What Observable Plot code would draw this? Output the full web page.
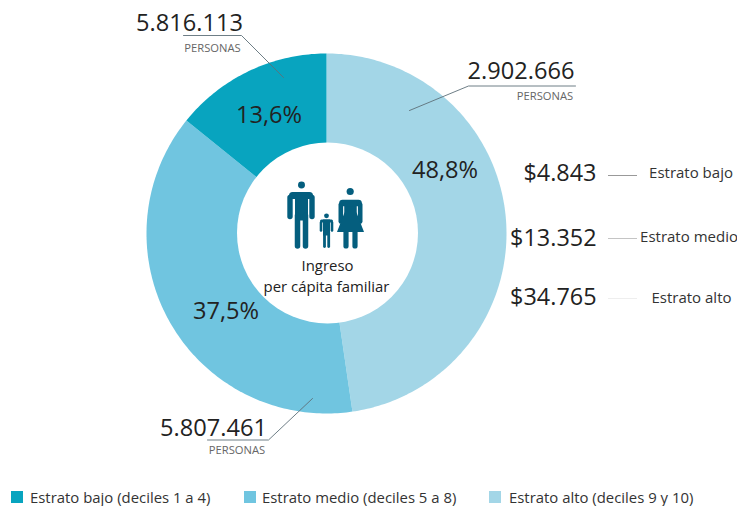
<!DOCTYPE html>
<html><head><meta charset="utf-8">
<script src="https://cdn.jsdelivr.net/npm/d3@7"></script>
<script src="https://cdn.jsdelivr.net/npm/@observablehq/plot@0.6"></script>
<style>
html,body{margin:0;padding:0;background:#fff}
#c{width:737px;height:506px;overflow:hidden;font-family:"Open Sans",sans-serif}
#c svg{display:block}
#legend{position:relative;height:22px;font-size:14.9px;color:#333;line-height:22px}
#legend span.i{position:absolute;top:2px;white-space:nowrap}
#legend i{position:absolute;top:7px;width:12px;height:12px}
</style></head><body><div id="c"></div>
<script>
// Data
const categories = ["Estrato alto","Estrato medio","Estrato bajo"];
const legendLabels = ["Estrato alto (deciles 9 y 10)","Estrato medio (deciles 5 a 8)","Estrato bajo (deciles 1 a 4)"];
const colors = ["#a3d6e7","#70c5e0","#08a4bf"];
const drawnShares = [47.7,38.1,14.2];
const shareLabels = ["48,8%","37,5%","13,6%"];
const personas = ["2.902.666","5.807.461","5.816.113"];
const incomes = ["$4.843","$13.352","$34.765"];
const incomeNames = ["Estrato bajo","Estrato medio","Estrato alto"];

// Layout
const W=737,H=484,cx=326,cy=233,R=180,r=90.5;
const arcs = d3.pie().sort(null).value(d=>d)(drawnShares);
const slicePts = arcs.flatMap((a,i)=>{
  const pts=[];
  const n=Math.ceil((a.endAngle-a.startAngle)*60);
  for(let k=0;k<=n;k++){const t=a.startAngle+(a.endAngle-a.startAngle)*k/n;pts.push({c:categories[i],x:cx+R*Math.sin(t),y:cy-R*Math.cos(t)});}
  pts.push({c:categories[i],x:cx,y:cy});
  return pts;
});
const big=[
 {t:personas[2],x:189,y:30},{t:personas[0],x:520.5,y:78},{t:personas[1],x:213,y:435},
 {t:shareLabels[2],x:268.5,y:122},{t:shareLabels[0],x:444.5,y:177},{t:shareLabels[1],x:225.5,y:318}
];
const amounts=[{t:incomes[0],x:596,y:180},{t:incomes[1],x:596,y:245},{t:incomes[2],x:596,y:304}];
const names=[{t:incomeNames[0],x:690.5,y:177},{t:incomeNames[1],x:688.5,y:241},{t:incomeNames[2],x:691,y:302}];
const pers=[{x:212,y:51},{x:544.5,y:99.5},{x:236.5,y:453.5}];
const leaders=[
 {k:"a",x:183,y:35},{k:"a",x:241,y:35},{k:"a",x:283,y:77},
 {k:"b",x:409,y:110},{k:"b",x:468,y:85.5},{k:"b",x:575,y:85.5},
 {k:"c",x:207,y:439.5},{k:"c",x:268,y:439.5},{k:"c",x:312,y:398}
];
const ticks=[{x1:608,x2:637,y:175,s:"#999"},{x1:608,x2:637,y:238,s:"#c4c4c4"},{x1:608,x2:637,y:298,s:"#eeeeee"}];
const ink="#045e7e";
const heads=[{x:301,y:184.5,r:6.6},{x:349.7,y:191,r:7},{x:326,y:215.3,r:3.2}];
const limbs=[
 // man
 {x1:289.5,y1:197,x2:289.5,y2:216,w:5.4},{x1:311.5,y1:197,x2:311.5,y2:216,w:5.4},{x1:292,y1:195,x2:309,y2:195,w:7},
 {x1:297,y1:215,x2:297,y2:245.5,w:5.5},{x1:305,y1:215,x2:305,y2:245.5,w:5.5},
 // child
 {x1:320.5,y1:222,x2:320.5,y2:230,w:2.6},{x1:331.5,y1:222,x2:331.5,y2:230,w:2.6},{x1:321,y1:220.5,x2:331,y2:220.5,w:3},
 {x1:324,y1:232,x2:324,y2:246,w:2.8},{x1:328.2,y1:232,x2:328.2,y2:246,w:2.8},
 // woman
 {x1:340.3,y1:204,x2:340.3,y2:221,w:4.6},{x1:359.7,y1:204,x2:359.7,y2:221,w:4.6},{x1:342,y1:202.5,x2:358,y2:202.5,w:6.5},
 {x1:345.5,y1:230,x2:345.5,y2:245.5,w:5.2},{x1:354.5,y1:230,x2:354.5,y2:245.5,w:5.2}
];
const trunks=[
 {x1:301,y1:193,x2:301,y2:220,w:13},
 {x1:326,y1:219,x2:326,y2:235,w:7},
 {x1:350,y1:200,x2:350,y2:216,w:12.5}
];
const skirt=[{x:344,y:212},{x:356,y:212},{x:363.5,y:231.5},{x:336.5,y:231.5}];

const plot=Plot.plot({
 width:W,height:H,margin:0,
 x:{domain:[0,W],range:[0,W],axis:null},
 y:{domain:[0,H],range:[0,H],axis:null},
 color:{domain:categories,range:colors},
 style:{fontFamily:'"Open Sans",sans-serif',background:"#fff"},
 marks:[
  Plot.line(slicePts,{x:"x",y:"y",z:"c",fill:"c",stroke:null,curve:"linear"}),
  Plot.dot([{x:cx+1,y:232.5}],{x:"x",y:"y",r:r,fill:"#fff"}),
  Plot.line(leaders,{x:"x",y:"y",z:"k",stroke:"#5d6f78",strokeWidth:0.9}),
  Plot.ruleY(ticks,{x1:"x1",x2:"x2",y:"y",stroke:"s",strokeWidth:1}),
  Plot.link(trunks,{x1:"x1",y1:"y1",x2:"x2",y2:"y2",stroke:ink,strokeWidth:"w"}),
  Plot.link(limbs,{x1:"x1",y1:"y1",x2:"x2",y2:"y2",stroke:ink,strokeWidth:"w",strokeLinecap:"round"}),
  Plot.line(skirt,{x:"x",y:"y",fill:ink,stroke:null}),
  Plot.dot(heads,{x:"x",y:"y",r:"r",fill:ink}),
  Plot.text(big,{x:"x",y:"y",text:"t",fontSize:23.6,fill:"#222",lineAnchor:"bottom"}),
  Plot.text(amounts,{x:"x",y:"y",text:"t",fontSize:23.4,fill:"#222",textAnchor:"end",lineAnchor:"bottom"}),
  Plot.text(names,{x:"x",y:"y",text:"t",fontSize:15,fill:"#333",lineAnchor:"bottom"}),
  Plot.text(pers,{x:"x",y:"y",text:()=>"PERSONAS",fontSize:11.2,fill:"#666",lineAnchor:"bottom"}),
  Plot.text([{t:"Ingreso",x:327,y:270.5},{t:"per cápita familiar",x:326,y:291.5}],{x:"x",y:"y",text:"t",fontSize:14.9,fill:"#222",lineAnchor:"bottom"})
 ]
});
document.getElementById("c").append(plot);
const leg=document.createElement("div");leg.id="legend";
[[2,11,30],[1,244,262],[0,489,509]].forEach(([i,sx,tx])=>{
 const s=document.createElement("i");s.style.left=sx+"px";s.style.background=colors[i];leg.append(s);
 const t=document.createElement("span");t.className="i";t.style.left=tx+"px";t.textContent=legendLabels[i];leg.append(t);
});
document.getElementById("c").append(leg);
</script></body></html>
